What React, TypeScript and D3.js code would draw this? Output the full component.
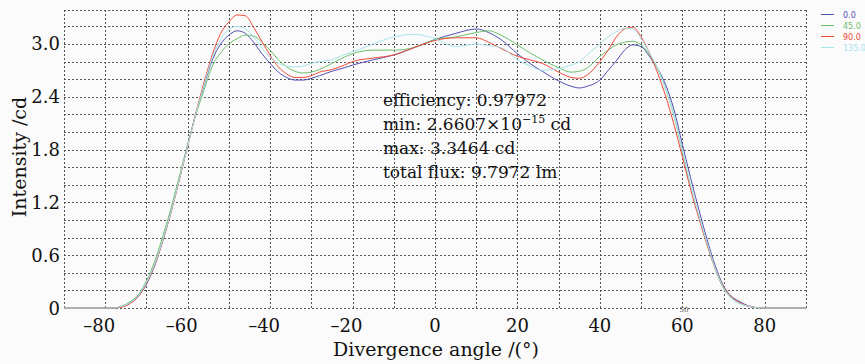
import { useEffect, useRef } from 'react';
import * as d3 from 'd3';

const angles = [
  -90, -80, -78, -76, -74, -72, -70, -68, -66, -64, -62, -60, -58, -56,
  -54, -52, -50, -48, -46, -44, -42, -40, -38, -36, -34, -32, -30, -28,
  -25, -22, -20, -15, -10, -5, 0, 5, 10, 13, 16, 20, 23, 26, 30, 33, 35, 37, 40,
  42, 44, 46, 48, 50, 52, 54, 56, 58, 60, 62, 64, 66, 68, 70, 72, 74, 76, 78,
  80, 90,
];

const intensity0 = [
  0, 0, 0, 0.02, 0.06, 0.13, 0.27, 0.48, 0.77, 1.1, 1.47, 1.84, 2.21, 2.53,
  2.82, 3.0, 3.1, 3.15, 3.12, 3.02, 2.89, 2.78, 2.68, 2.62, 2.59, 2.59, 2.61, 2.64,
  2.69, 2.73, 2.76, 2.82, 2.875, 2.96, 3.05, 3.12, 3.17, 3.13, 3.05, 2.89, 2.78, 2.69, 2.58, 2.52, 2.5, 2.52, 2.59,
  2.7, 2.81, 2.93, 2.99, 2.97, 2.86, 2.72, 2.53, 2.25, 1.86, 1.48, 1.12, 0.78, 0.48, 0.25, 0.13, 0.07, 0.025, 0.005,
  0, 0,
];

const intensity45 = [
  0, 0, 0, 0.02, 0.07, 0.15, 0.31, 0.53, 0.82, 1.14, 1.5, 1.86, 2.2, 2.48,
  2.75, 2.9, 3.0, 3.06, 3.1, 3.09, 3.02, 2.93, 2.82, 2.74, 2.69, 2.67, 2.68, 2.71,
  2.78, 2.85, 2.89, 2.93, 2.93, 2.96, 3.05, 3.08, 3.13, 3.15, 3.1, 2.99, 2.9, 2.82, 2.73, 2.68, 2.69, 2.73, 2.86,
  2.93, 2.99, 3.02, 3.03, 2.99, 2.88, 2.72, 2.48, 2.18, 1.78, 1.38, 1.04, 0.72, 0.44, 0.22, 0.11, 0.05, 0.02, 0.003,
  0, 0,
];

const intensity90 = [
  0, 0, 0, 0.01, 0.05, 0.13, 0.28, 0.49, 0.77, 1.09, 1.46, 1.84, 2.22, 2.57,
  2.88, 3.12, 3.25, 3.33, 3.32, 3.19, 3.03, 2.87, 2.74, 2.66, 2.62, 2.62, 2.64, 2.68,
  2.71, 2.76, 2.8, 2.84, 2.875, 2.96, 3.04, 3.07, 3.07, 3.02, 2.95, 2.86, 2.82, 2.78, 2.68, 2.62, 2.61, 2.65, 2.8,
  2.93, 3.08, 3.17, 3.19, 3.08, 2.9, 2.67, 2.4, 2.08, 1.72, 1.35, 1.02, 0.72, 0.45, 0.24, 0.12, 0.06, 0.02, 0.003,
  0, 0,
];

const intensity135 = [
  0, 0, 0, 0.02, 0.06, 0.14, 0.29, 0.5, 0.78, 1.1, 1.47, 1.84, 2.21, 2.54,
  2.85, 3.05, 3.17, 3.2, 3.17, 3.08, 2.95, 2.85, 2.78, 2.75, 2.74, 2.75, 2.78, 2.8,
  2.82, 2.88, 2.91, 3.0, 3.08, 3.11, 3.06, 2.97, 3.0, 2.98, 2.96, 2.82, 2.75, 2.7, 2.72, 2.76, 2.8, 2.88, 3.0,
  3.08, 3.14, 3.18, 3.17, 3.06, 2.9, 2.72, 2.48, 2.18, 1.79, 1.4, 1.05, 0.74, 0.45, 0.23, 0.11, 0.05, 0.02, 0.003,
  0, 0,
];

const seriesLabels = ['0.0', '45.0', '90.0', '135.0'];
const seriesColors = ['#5050b4', '#6cc06c', '#f04a36', '#a8e4ec'];
const xTicks = [-80, -60, -40, -20, 0, 20, 40, 60, 80];
const yTicks = [0, 0.6, 1.2, 1.8, 2.4, 3.0];
const xGrid = [-90, -80, -70, -60, -50, -40, -30, -20, -10, 0, 10, 20, 30, 40, 50, 60, 70, 80, 90];
const yGrid = [0, 0.2, 0.4, 0.6, 0.8, 1.0, 1.2, 1.4, 1.6, 1.8, 2.0, 2.2, 2.4, 2.6, 2.8, 3.0, 3.2];

const W = 865;
const H = 364;
const serif = '"DejaVu Serif", serif';

export default function App() {
  const svgRef = useRef<SVGSVGElement>(null);

  useEffect(() => {
    if (!svgRef.current) return;
    const svg = d3.select(svgRef.current);
    svg.selectAll('*').remove();

    svg.append('rect').attr('width', W).attr('height', H).attr('fill', '#fbfbfb');

    const x = d3.scaleLinear().domain([-90, 90]).range([64, 806]);
    const y = d3.scaleLinear().domain([0, 3.386]).range([308, 10]);

    // dashed grid, including the frame
    const grid = svg.append('g').attr('stroke', '#555').attr('stroke-dasharray', '2,2').attr('stroke-width', 1);
    xGrid.forEach((v) => {
      const px = Math.round(x(v)) + 0.5;
      grid.append('line').attr('x1', px).attr('x2', px).attr('y1', y(3.386)).attr('y2', y(0));
    });
    [...yGrid, 3.386].forEach((v) => {
      const py = Math.round(y(v)) + 0.5;
      grid.append('line').attr('x1', x(-90)).attr('x2', x(90)).attr('y1', py).attr('y2', py);
    });

    // curves
    const all = [intensity0, intensity45, intensity90, intensity135];
    const line = d3
      .line<number>()
      .x((_, i) => x(angles[i]))
      .y((d) => y(d))
      .curve(d3.curveMonotoneX);
    all.forEach((vals, i) => {
      svg.append('path')
        .attr('d', line(vals))
        .attr('fill', 'none')
        .attr('stroke', seriesColors[i])
        .attr('stroke-width', 1);
    });

    // tick labels
    svg.append('g')
      .selectAll('text')
      .data(yTicks)
      .join('text')
      .attr('x', 60)
      .attr('y', (d) => y(d) + 6.5)
      .attr('text-anchor', 'end')
      .attr('font-family', serif)
      .attr('font-size', 18)
      .attr('fill', '#111')
      .text((d) => (d === 0 ? '0' : d.toFixed(1)));

    svg.append('g')
      .selectAll('text')
      .data(xTicks)
      .join('text')
      .attr('x', (d) => x(d) - (d < 0 ? 6 : 0))
      .attr('y', 332)
      .attr('text-anchor', 'middle')
      .attr('font-family', serif)
      .attr('font-size', 18)
      .attr('fill', '#111')
      .text((d) => (d < 0 ? `\u2013${-d}` : `${d}`));

    // small ghost label just above the 60 tick label
    svg.append('text')
      .attr('x', 684)
      .attr('y', 312)
      .attr('text-anchor', 'middle')
      .attr('font-family', serif)
      .attr('font-size', 7)
      .attr('fill', '#555')
      .text('50');

    // axis titles
    svg.append('text')
      .attr('x', 436)
      .attr('y', 356)
      .attr('text-anchor', 'middle')
      .attr('font-family', serif)
      .attr('font-size', 19)
      .attr('fill', '#111')
      .text('Divergence angle /(\u00b0)');

    svg.append('text')
      .attr('transform', 'rotate(-90)')
      .attr('x', -157)
      .attr('y', 26)
      .attr('text-anchor', 'middle')
      .attr('font-family', serif)
      .attr('font-size', 19)
      .attr('fill', '#111')
      .text('Intensity /cd');

    // annotation
    const note = svg.append('g').attr('font-family', serif).attr('font-size', 17).attr('fill', '#111');
    note.append('text').attr('x', 383).attr('y', 106).text('efficiency: 0.97972');
    const minText = note.append('text').attr('x', 383).attr('y', 130);
    minText.append('tspan').text('min: 2.6607\u00d710');
    minText.append('tspan').attr('dy', -7).attr('font-size', 11).text('\u221215');
    minText.append('tspan').attr('dy', 7).text(' cd');
    note.append('text').attr('x', 383).attr('y', 154).text('max: 3.3464 cd');
    note.append('text').attr('x', 383).attr('y', 178).text('total flux: 9.7972 lm');

    // legend
    const legend = svg.append('g').attr('font-family', '"DejaVu Sans", sans-serif').attr('font-size', 8);
    seriesLabels.forEach((label, i) => {
      const ly = 14.5 + i * 11;
      legend.append('line')
        .attr('x1', 821).attr('x2', 834)
        .attr('y1', ly).attr('y2', ly)
        .attr('stroke', seriesColors[i])
        .attr('stroke-width', 1);
      legend.append('text')
        .attr('x', 843)
        .attr('y', ly + 3)
        .attr('fill', seriesColors[i])
        .text(label);
    });
  }, []);

  return (
    <svg
      ref={svgRef}
      width={W}
      height={H}
      style={{ position: 'absolute', left: 0, top: 0, display: 'block' }}
    />
  );
}
